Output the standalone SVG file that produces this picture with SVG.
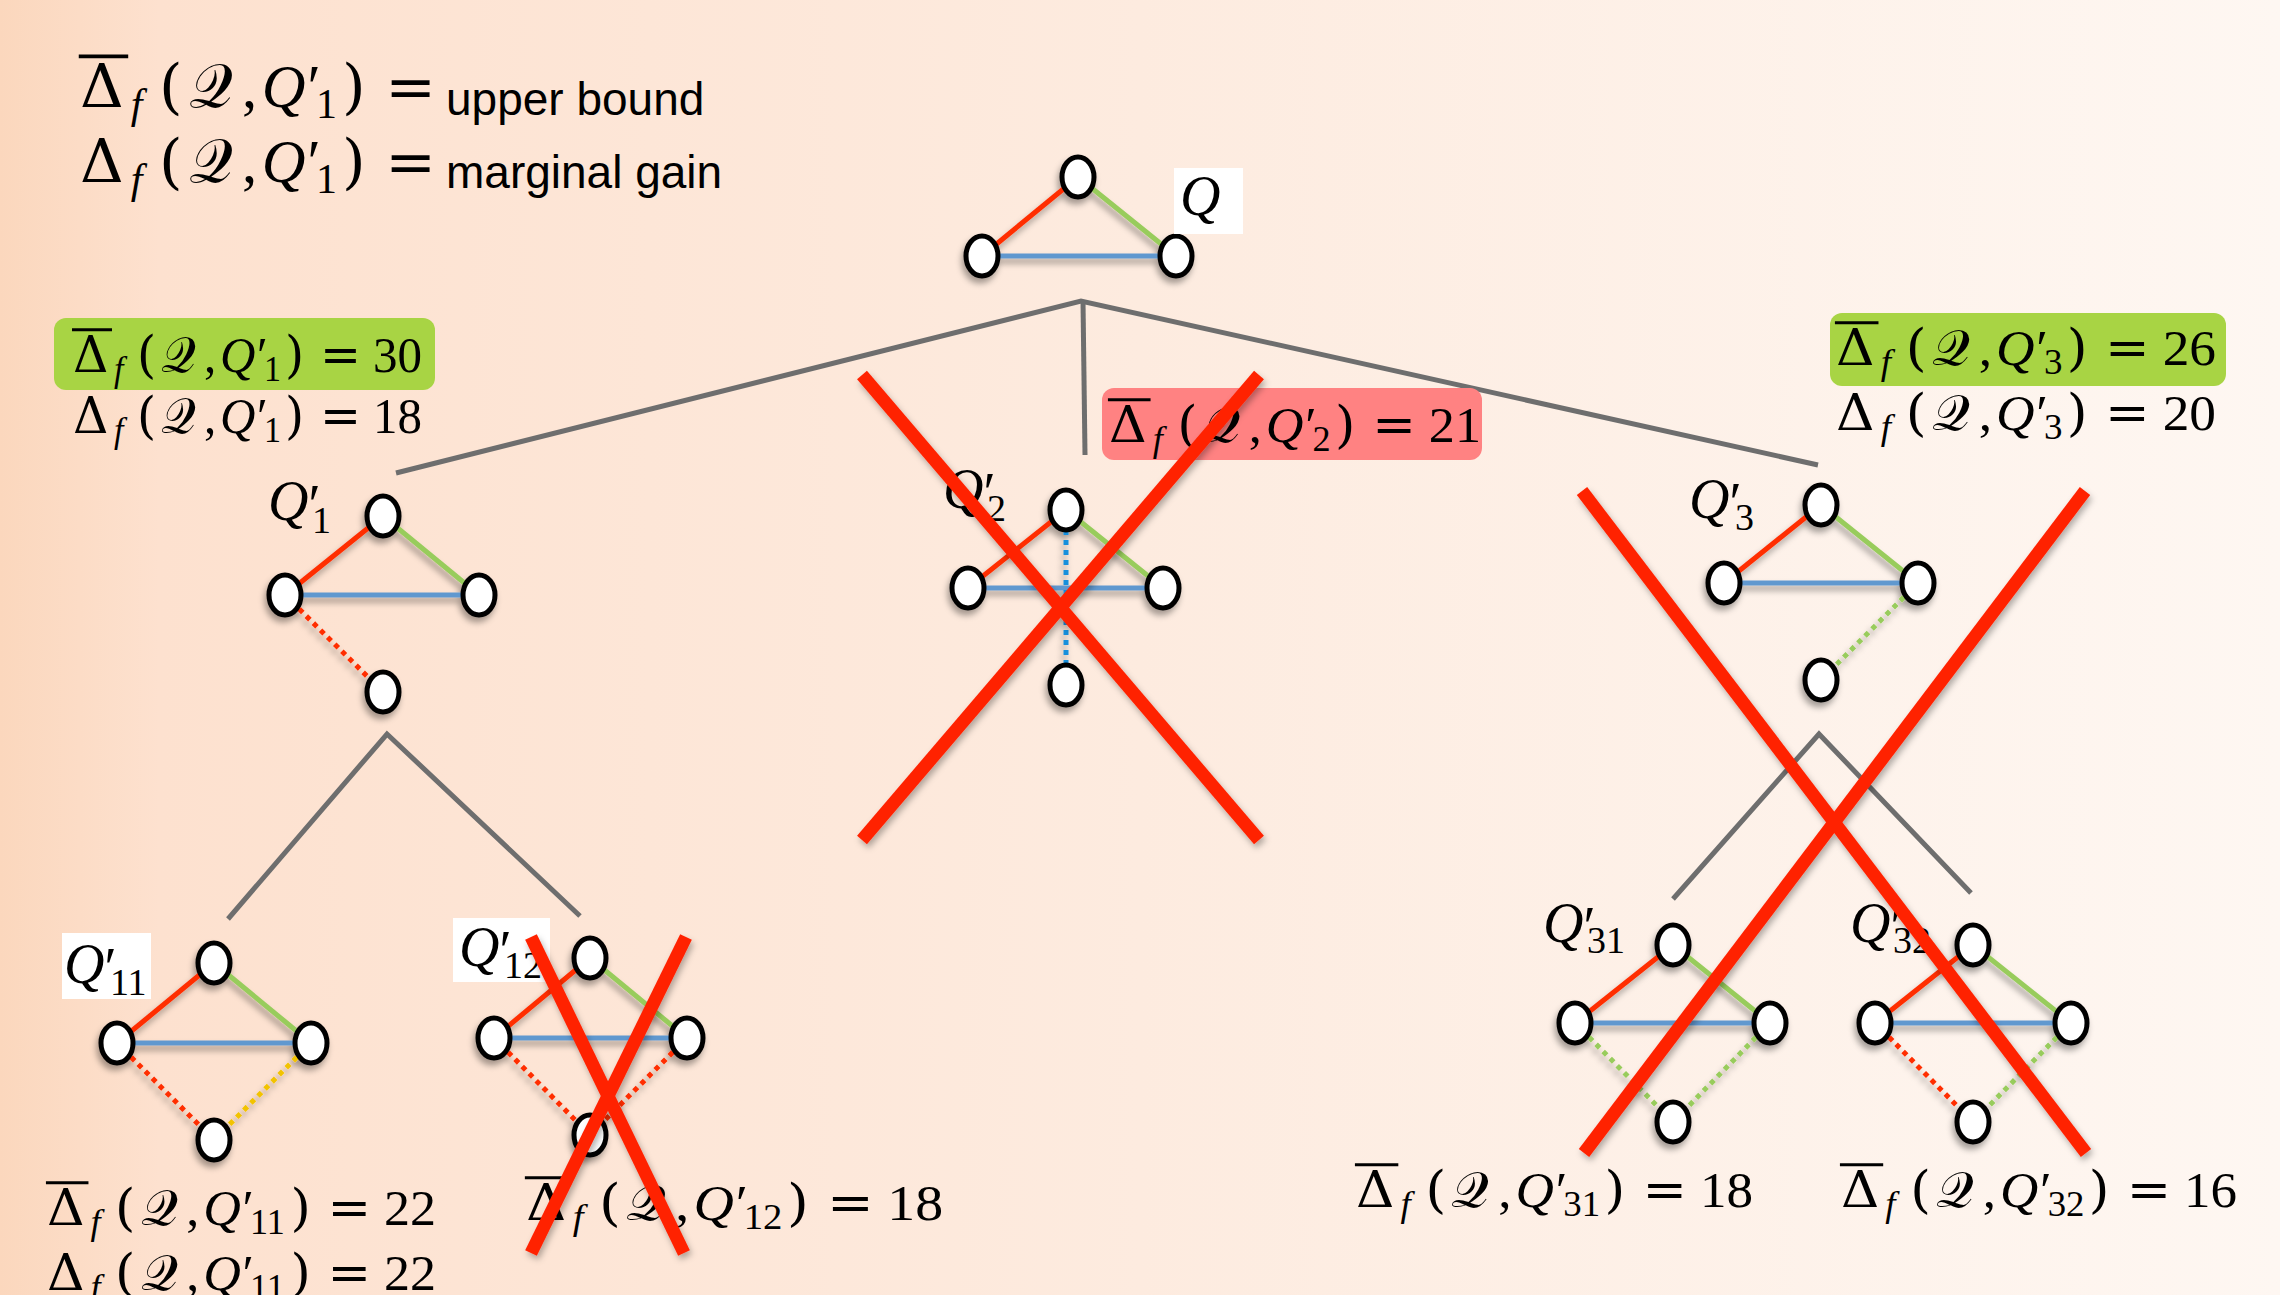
<svg xmlns="http://www.w3.org/2000/svg" xmlns:xlink="http://www.w3.org/1999/xlink" width="2280" height="1295" viewBox="0 0 2280 1295">
<defs>
<linearGradient id="bg" x1="0" y1="0" x2="1" y2="0">
<stop offset="0" stop-color="#fbd7bd"/>
<stop offset="0.07" stop-color="#fde1cf"/>
<stop offset="0.5" stop-color="#fdebdf"/>
<stop offset="1" stop-color="#fef7f2"/>
</linearGradient>
<filter id="sh" x="-20%" y="-20%" width="140%" height="150%">
<feDropShadow dx="-2" dy="5" stdDeviation="3" flood-color="#000" flood-opacity="0.35"/>
</filter>
<filter id="shx" x="-10%" y="-10%" width="120%" height="120%">
<feDropShadow dx="2" dy="4" stdDeviation="3" flood-color="#000" flood-opacity="0.3"/>
</filter>
<ellipse id="nd" cx="0" cy="0" rx="16" ry="20" fill="#fff" stroke="#000" stroke-width="5"/>
<style>
.m{font-family:"Liberation Serif","DejaVu Serif",serif;font-size:49px;fill:#000}
.d{font-family:"DejaVu Serif",serif}
.i{font-style:italic}
.s{font-size:34px}
.cal{font-family:"DejaVu Serif","DejaVu Sans","Noto Sans",serif;font-style:normal}
.bar{stroke:#000;stroke-width:3}
.sans{font-family:"Liberation Sans","Arial",sans-serif;font-size:46px;fill:#000}
.q{font-family:"Liberation Serif",serif;font-style:italic;font-size:56px;fill:#000}
.qs{font-family:"Liberation Serif",serif;font-style:normal;font-size:38px}
.wb{fill:#fff}
.e{stroke-width:5;fill:none}
.r{stroke:#ff2d00}
.g{stroke:#98cc5c}
.b{stroke:#6198cf}
.y{stroke:#f2c300}
.c{stroke:#138fdc}
.dot{stroke-dasharray:5 5}
.tree{stroke:#6e6e6e;stroke-width:5;fill:none}
.x{stroke:#ff2200;stroke-width:13;fill:none}
.gbox{fill:#a8d444}
.pbox{fill:#ff8282}
</style>
</defs>
<rect x="0" y="0" width="2280" height="1295" fill="url(#bg)"/>

<!-- legend -->
<g id="legend">
<g transform="translate(80,107) scale(1.236)">
<line class="bar" x1="-1" y1="-41" x2="39" y2="-41"/>
<text class="m"><tspan class="d" x="0" y="0">Δ</tspan><tspan class="i s" x="41" y="9">f</tspan><tspan class="d" x="64" y="0">(</tspan><tspan class="cal" x="88" y="0">𝒬</tspan><tspan x="131" y="0">,</tspan><tspan class="i" x="147" y="0">Q</tspan><tspan x="184" y="0">′</tspan><tspan class="s" x="191" y="9">1</tspan><tspan class="d" x="212" y="0">)</tspan><tspan class="d" x="247" y="0">=</tspan></text>
</g>
<text class="sans" x="446" y="115">upper bound</text>
<g transform="translate(80,182) scale(1.236)">
<text class="m"><tspan class="d" x="0" y="0">Δ</tspan><tspan class="i s" x="41" y="9">f</tspan><tspan class="d" x="64" y="0">(</tspan><tspan class="cal" x="88" y="0">𝒬</tspan><tspan x="131" y="0">,</tspan><tspan class="i" x="147" y="0">Q</tspan><tspan x="184" y="0">′</tspan><tspan class="s" x="191" y="9">1</tspan><tspan class="d" x="212" y="0">)</tspan><tspan class="d" x="247" y="0">=</tspan></text>
</g>
<text class="sans" x="446" y="188">marginal gain</text>
</g>

<!-- connectors -->
<g id="connectors">
<polyline class="tree" points="396,473 1081,301 1818,465"/>
<line class="tree" x1="1083" y1="301" x2="1085" y2="455"/>
<polyline class="tree" points="228,919 387,734 580,916"/>
<polyline class="tree" points="1673,899 1819,734 1971,893"/>
</g>

<!-- Q -->
<g id="node-Q">
<g filter="url(#sh)">
<line class="e r" x1="1078" y1="177" x2="982" y2="256"/>
<line class="e g" x1="1078" y1="177" x2="1176" y2="256"/>
<line class="e b" x1="982" y1="256" x2="1176" y2="256"/>
<use xlink:href="#nd" x="1078" y="177"/>
<use xlink:href="#nd" x="982" y="256"/>
<use xlink:href="#nd" x="1176" y="256"/>
</g>
<rect class="wb" x="1174" y="168" width="69" height="66"/>
<text class="q" x="1180" y="215" font-size="60">Q</text>
</g>

<!-- Q'1 -->
<g id="node-Q1">
<rect class="gbox" x="54" y="318" width="381" height="72" rx="12"/>
<g transform="translate(73,372) scale(1.0,1.03)">
<line class="bar" x1="-1" y1="-41" x2="39" y2="-41"/>
<text class="m"><tspan class="d" x="0" y="0">Δ</tspan><tspan class="i s" x="41" y="9">f</tspan><tspan class="d" x="64" y="0">(</tspan><tspan class="cal" x="88" y="0">𝒬</tspan><tspan x="131" y="0">,</tspan><tspan class="i" x="147" y="0">Q</tspan><tspan x="184" y="0">′</tspan><tspan class="s" x="191" y="9">1</tspan><tspan class="d" x="212" y="0">)</tspan><tspan class="d" x="247" y="0">=</tspan><tspan x="300" y="0">30</tspan></text>
</g>
<g transform="translate(73,433) scale(1.0,1.03)">
<text class="m"><tspan class="d" x="0" y="0">Δ</tspan><tspan class="i s" x="41" y="9">f</tspan><tspan class="d" x="64" y="0">(</tspan><tspan class="cal" x="88" y="0">𝒬</tspan><tspan x="131" y="0">,</tspan><tspan class="i" x="147" y="0">Q</tspan><tspan x="184" y="0">′</tspan><tspan class="s" x="191" y="9">1</tspan><tspan class="d" x="212" y="0">)</tspan><tspan class="d" x="247" y="0">=</tspan><tspan x="300" y="0">18</tspan></text>
</g>
<g filter="url(#sh)">
<line class="e r" x1="383" y1="516" x2="285" y2="595"/>
<line class="e g" x1="383" y1="516" x2="479" y2="595"/>
<line class="e b" x1="285" y1="595" x2="479" y2="595"/>
<line class="e r dot" x1="285" y1="595" x2="383" y2="692"/>
<use xlink:href="#nd" x="383" y="516"/>
<use xlink:href="#nd" x="285" y="595"/>
<use xlink:href="#nd" x="479" y="595"/>
<use xlink:href="#nd" x="383" y="692"/>
</g>
<text class="q" x="268" y="520">Q<tspan x="305" y="524">′</tspan><tspan class="qs" x="312" y="533">1</tspan></text>
</g>

<!-- Q'2 -->
<g id="node-Q2">
<rect class="pbox" x="1102" y="388" width="380" height="72" rx="12"/>
<g transform="translate(1109,442) scale(1.066,1.03)">
<line class="bar" x1="-1" y1="-41" x2="39" y2="-41"/>
<text class="m"><tspan class="d" x="0" y="0">Δ</tspan><tspan class="i s" x="41" y="9">f</tspan><tspan class="d" x="64" y="0">(</tspan><tspan class="cal" x="88" y="0">𝒬</tspan><tspan x="131" y="0">,</tspan><tspan class="i" x="147" y="0">Q</tspan><tspan x="184" y="0">′</tspan><tspan class="s" x="191" y="9">2</tspan><tspan class="d" x="212" y="0">)</tspan><tspan class="d" x="247" y="0">=</tspan><tspan x="300" y="0">21</tspan></text>
</g>
<g filter="url(#sh)">
<line class="e r" x1="1066" y1="510" x2="968" y2="588" stroke-width="4"/>
<line class="e g" x1="1066" y1="510" x2="1163" y2="588" stroke-width="4"/>
<line class="e b" x1="968" y1="588" x2="1163" y2="588" stroke-width="4"/>
<line class="e c dot" x1="1066" y1="510" x2="1066" y2="685" stroke-width="4"/>
<use xlink:href="#nd" x="1066" y="510"/>
<use xlink:href="#nd" x="968" y="588"/>
<use xlink:href="#nd" x="1163" y="588"/>
<use xlink:href="#nd" x="1066" y="685"/>
</g>
<text class="q" x="943" y="508">Q<tspan x="980" y="512">′</tspan><tspan class="qs" x="987" y="521">2</tspan></text>
</g>

<!-- Q'3 -->
<g id="node-Q3">
<rect class="gbox" x="1830" y="313" width="396" height="73" rx="12"/>
<g transform="translate(1836,365) scale(1.089,1.03)">
<line class="bar" x1="-1" y1="-41" x2="39" y2="-41"/>
<text class="m"><tspan class="d" x="0" y="0">Δ</tspan><tspan class="i s" x="41" y="9">f</tspan><tspan class="d" x="64" y="0">(</tspan><tspan class="cal" x="88" y="0">𝒬</tspan><tspan x="131" y="0">,</tspan><tspan class="i" x="147" y="0">Q</tspan><tspan x="184" y="0">′</tspan><tspan class="s" x="191" y="9">3</tspan><tspan class="d" x="212" y="0">)</tspan><tspan class="d" x="247" y="0">=</tspan><tspan x="300" y="0">26</tspan></text>
</g>
<g transform="translate(1836,430) scale(1.089,1.03)">
<text class="m"><tspan class="d" x="0" y="0">Δ</tspan><tspan class="i s" x="41" y="9">f</tspan><tspan class="d" x="64" y="0">(</tspan><tspan class="cal" x="88" y="0">𝒬</tspan><tspan x="131" y="0">,</tspan><tspan class="i" x="147" y="0">Q</tspan><tspan x="184" y="0">′</tspan><tspan class="s" x="191" y="9">3</tspan><tspan class="d" x="212" y="0">)</tspan><tspan class="d" x="247" y="0">=</tspan><tspan x="300" y="0">20</tspan></text>
</g>
<g filter="url(#sh)">
<line class="e r" x1="1821" y1="505" x2="1724" y2="583"/>
<line class="e g" x1="1821" y1="505" x2="1918" y2="583"/>
<line class="e b" x1="1724" y1="583" x2="1918" y2="583"/>
<line class="e g dot" x1="1918" y1="583" x2="1821" y2="680"/>
<use xlink:href="#nd" x="1821" y="505"/>
<use xlink:href="#nd" x="1724" y="583"/>
<use xlink:href="#nd" x="1918" y="583"/>
<use xlink:href="#nd" x="1821" y="680"/>
</g>
<text class="q" x="1689" y="518">Q<tspan x="1726" y="522">′</tspan><tspan class="qs" x="1735" y="530">3</tspan></text>
</g>

<!-- Q'11 -->
<g id="node-Q11">
<g filter="url(#sh)">
<line class="e r" x1="214" y1="963" x2="117" y2="1043"/>
<line class="e g" x1="214" y1="963" x2="311" y2="1043"/>
<line class="e b" x1="117" y1="1043" x2="311" y2="1043"/>
<line class="e r dot" x1="117" y1="1043" x2="214" y2="1140"/>
<line class="e y dot" x1="311" y1="1043" x2="214" y2="1140"/>
<use xlink:href="#nd" x="214" y="963"/>
<use xlink:href="#nd" x="117" y="1043"/>
<use xlink:href="#nd" x="311" y="1043"/>
<use xlink:href="#nd" x="214" y="1140"/>
</g>
<rect class="wb" x="62" y="933" width="89" height="66"/>
<text class="q" x="64" y="983">Q<tspan x="101" y="987">′</tspan><tspan class="qs" x="110" y="995">11</tspan></text>
<g transform="translate(47,1225) scale(1.063,1.03)">
<line class="bar" x1="-1" y1="-41" x2="39" y2="-41"/>
<text class="m"><tspan class="d" x="0" y="0">Δ</tspan><tspan class="i s" x="41" y="9">f</tspan><tspan class="d" x="64" y="0">(</tspan><tspan class="cal" x="88" y="0">𝒬</tspan><tspan x="131" y="0">,</tspan><tspan class="i" x="147" y="0">Q</tspan><tspan x="184" y="0">′</tspan><tspan class="s" x="191" y="9">11</tspan><tspan class="d" x="229" y="0">)</tspan><tspan class="d" x="264" y="0">=</tspan><tspan x="317" y="0">22</tspan></text>
</g>
<g transform="translate(47,1290) scale(1.063,1.03)">
<text class="m"><tspan class="d" x="0" y="0">Δ</tspan><tspan class="i s" x="41" y="9">f</tspan><tspan class="d" x="64" y="0">(</tspan><tspan class="cal" x="88" y="0">𝒬</tspan><tspan x="131" y="0">,</tspan><tspan class="i" x="147" y="0">Q</tspan><tspan x="184" y="0">′</tspan><tspan class="s" x="191" y="9">11</tspan><tspan class="d" x="229" y="0">)</tspan><tspan class="d" x="264" y="0">=</tspan><tspan x="317" y="0">22</tspan></text>
</g>
</g>

<!-- Q'12 -->
<g id="node-Q12">
<g filter="url(#sh)">
<line class="e r" x1="590" y1="958" x2="494" y2="1038"/>
<line class="e g" x1="590" y1="958" x2="687" y2="1038"/>
<line class="e b" x1="494" y1="1038" x2="687" y2="1038"/>
<line class="e r dot" x1="494" y1="1038" x2="590" y2="1135"/>
<line class="e r dot" x1="687" y1="1038" x2="590" y2="1135"/>
<use xlink:href="#nd" x="590" y="958"/>
<use xlink:href="#nd" x="494" y="1038"/>
<use xlink:href="#nd" x="687" y="1038"/>
<use xlink:href="#nd" x="590" y="1135"/>
</g>
<rect class="wb" x="453" y="918" width="97" height="64"/>
<text class="q" x="459" y="966">Q<tspan x="496" y="970">′</tspan><tspan class="qs" x="504" y="978">12</tspan></text>
<g transform="translate(526,1220) scale(1.14,1.03)">
<line class="bar" x1="-1" y1="-41" x2="39" y2="-41"/>
<text class="m"><tspan class="d" x="0" y="0">Δ</tspan><tspan class="i s" x="41" y="9">f</tspan><tspan class="d" x="64" y="0">(</tspan><tspan class="cal" x="88" y="0">𝒬</tspan><tspan x="131" y="0">,</tspan><tspan class="i" x="147" y="0">Q</tspan><tspan x="184" y="0">′</tspan><tspan class="s" x="191" y="9">12</tspan><tspan class="d" x="229" y="0">)</tspan><tspan class="d" x="264" y="0">=</tspan><tspan x="317" y="0">18</tspan></text>
</g>
</g>

<!-- Q'31 -->
<g id="node-Q31">
<g filter="url(#sh)">
<line class="e r" x1="1673" y1="945" x2="1575" y2="1023"/>
<line class="e g" x1="1673" y1="945" x2="1770" y2="1023"/>
<line class="e b" x1="1575" y1="1023" x2="1770" y2="1023"/>
<line class="e g dot" x1="1575" y1="1023" x2="1673" y2="1122"/>
<line class="e g dot" x1="1770" y1="1023" x2="1673" y2="1122"/>
<use xlink:href="#nd" x="1673" y="945"/>
<use xlink:href="#nd" x="1575" y="1023"/>
<use xlink:href="#nd" x="1770" y="1023"/>
<use xlink:href="#nd" x="1673" y="1122"/>
</g>
<text class="q" x="1543" y="942">Q<tspan x="1580" y="946">′</tspan><tspan class="qs" x="1587" y="953">31</tspan></text>
<g transform="translate(1356,1207) scale(1.085,1.03)">
<line class="bar" x1="-1" y1="-41" x2="39" y2="-41"/>
<text class="m"><tspan class="d" x="0" y="0">Δ</tspan><tspan class="i s" x="41" y="9">f</tspan><tspan class="d" x="64" y="0">(</tspan><tspan class="cal" x="88" y="0">𝒬</tspan><tspan x="131" y="0">,</tspan><tspan class="i" x="147" y="0">Q</tspan><tspan x="184" y="0">′</tspan><tspan class="s" x="191" y="9">31</tspan><tspan class="d" x="229" y="0">)</tspan><tspan class="d" x="264" y="0">=</tspan><tspan x="317" y="0">18</tspan></text>
</g>
</g>

<!-- Q'32 -->
<g id="node-Q32">
<g filter="url(#sh)">
<line class="e r" x1="1973" y1="945" x2="1875" y2="1023"/>
<line class="e g" x1="1973" y1="945" x2="2071" y2="1023"/>
<line class="e b" x1="1875" y1="1023" x2="2071" y2="1023"/>
<line class="e r dot" x1="1875" y1="1023" x2="1973" y2="1122"/>
<line class="e g dot" x1="2071" y1="1023" x2="1973" y2="1122"/>
<use xlink:href="#nd" x="1973" y="945"/>
<use xlink:href="#nd" x="1875" y="1023"/>
<use xlink:href="#nd" x="2071" y="1023"/>
<use xlink:href="#nd" x="1973" y="1122"/>
</g>
<text class="q" x="1850" y="942">Q<tspan x="1887" y="946">′</tspan><tspan class="qs" x="1893" y="953">32</tspan></text>
<g transform="translate(1841,1207) scale(1.082,1.03)">
<line class="bar" x1="-1" y1="-41" x2="39" y2="-41"/>
<text class="m"><tspan class="d" x="0" y="0">Δ</tspan><tspan class="i s" x="41" y="9">f</tspan><tspan class="d" x="64" y="0">(</tspan><tspan class="cal" x="88" y="0">𝒬</tspan><tspan x="131" y="0">,</tspan><tspan class="i" x="147" y="0">Q</tspan><tspan x="184" y="0">′</tspan><tspan class="s" x="191" y="9">32</tspan><tspan class="d" x="229" y="0">)</tspan><tspan class="d" x="264" y="0">=</tspan><tspan x="317" y="0">16</tspan></text>
</g>
</g>

<!-- prune marks -->
<g id="prune-marks" filter="url(#shx)">
<line class="x" x1="862" y1="375" x2="1259" y2="840"/>
<line class="x" x1="1259" y1="375" x2="862" y2="840"/>
<line class="x" x1="531" y1="937" x2="684" y2="1253"/>
<line class="x" x1="686" y1="937" x2="531" y2="1253"/>
<line class="x" x1="1582" y1="491" x2="2086" y2="1153" stroke-width="14"/>
<line class="x" x1="2085" y1="491" x2="1584" y2="1153" stroke-width="14"/>
</g>
</svg>
